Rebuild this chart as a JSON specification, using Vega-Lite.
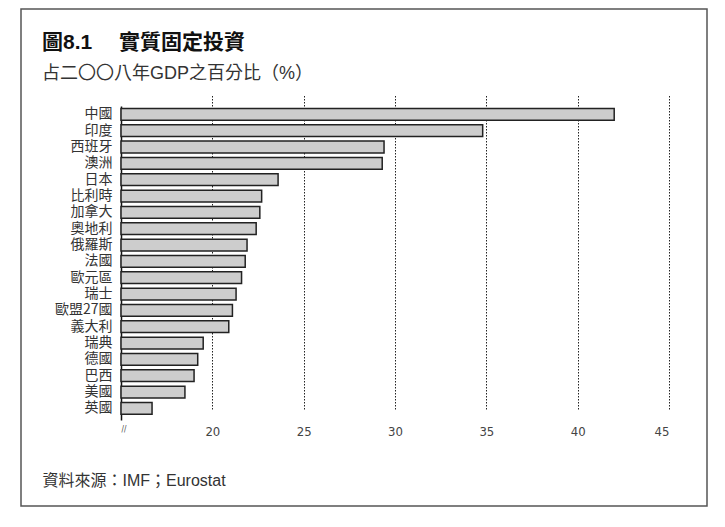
{
  "$schema": "https://vega.github.io/schema/vega-lite/v6.json",
  "autosize": "none",
  "padding": {"left": 21, "top": 9, "right": 18, "bottom": 21},
  "width": 686,
  "height": 497,
  "background": "white",
  "title": {
    "text": "圖8.1 　實質固定投資",
    "subtitle": "占二〇〇八年GDP之百分比（%）",
    "anchor": "start",
    "frame": "group",
    "offset": -74,
    "dx": 21,
    "font": "Liberation Sans, Noto Sans CJK TC",
    "fontSize": 21,
    "fontWeight": "bold",
    "color": "#111",
    "subtitleFont": "Liberation Sans, Noto Sans CJK TC",
    "subtitleFontSize": 18,
    "subtitleColor": "#333",
    "subtitlePadding": 12
  },
  "data": {
    "values": [
      {"country": "中國", "pct": 42.0},
      {"country": "印度", "pct": 34.8},
      {"country": "西班牙", "pct": 29.4},
      {"country": "澳洲", "pct": 29.3},
      {"country": "日本", "pct": 23.6},
      {"country": "比利時", "pct": 22.7},
      {"country": "加拿大", "pct": 22.6},
      {"country": "奧地利", "pct": 22.4},
      {"country": "俄羅斯", "pct": 21.9},
      {"country": "法國", "pct": 21.8},
      {"country": "歐元區", "pct": 21.6},
      {"country": "瑞士", "pct": 21.3},
      {"country": "歐盟27國", "pct": 21.1},
      {"country": "義大利", "pct": 20.9},
      {"country": "瑞典", "pct": 19.5},
      {"country": "德國", "pct": 19.2},
      {"country": "巴西", "pct": 19.0},
      {"country": "美國", "pct": 18.5},
      {"country": "英國", "pct": 16.7}
    ]
  },
  "mark": {"type": "bar", "fill": "#cdcdcd", "stroke": "#222", "strokeWidth": 1.5},
  "encoding": {
    "y": {
      "field": "country",
      "type": "nominal",
      "sort": null,
      "scale": {"range": [97, 411], "paddingInner": 0.28, "paddingOuter": 0.25, "align": 0.3},
      "axis": {
        "title": null,
        "offset": -100,
        "domainColor": "#111",
        "domainWidth": 1.5,
        "ticks": false,
        "labelPadding": 9,
        "labelFont": "Noto Sans CJK TC",
        "labelFontSize": 14,
        "labelColor": "#333",
        "grid": false
      }
    },
    "x": {
      "field": "pct",
      "type": "quantitative",
      "scale": {"domain": [15, 45], "range": [100, 648], "zero": false, "nice": false},
      "axis": {
        "values": [15, 20, 25, 30, 35, 40, 45],
        "offset": -86,
        "domain": false,
        "ticks": false,
        "labelPadding": 5,
        "labelExpr": "datum.value == 15 ? '//' : datum.label",
        "labelFont": "Liberation Sans Narrow, DejaVu Sans Condensed, Liberation Sans",
        "labelFontSize": {"condition": {"test": "datum.value == 15", "value": 8}, "value": 13},
        "labelColor": "#444",
        "grid": true,
        "gridColor": "#222",
        "gridDash": [1.5, 1.5],
        "gridWidth": 1,
        "gridOpacity": {"condition": {"test": "datum.value == 15", "value": 0}, "value": 1},
        "title": "資料來源：IMF；Eurostat",
        "titleX": 21,
        "titleY": 60,
        "titleAlign": "left",
        "titleAnchor": "start",
        "titleBaseline": "middle",
        "titleFont": "Liberation Sans, Noto Sans CJK TC",
        "titleFontSize": 16,
        "titleFontWeight": "normal",
        "titleColor": "#333"
      }
    },
    "x2": {"datum": 15}
  },
  "config": {
    "view": {"stroke": "#555", "strokeWidth": 1.5}
  }
}
